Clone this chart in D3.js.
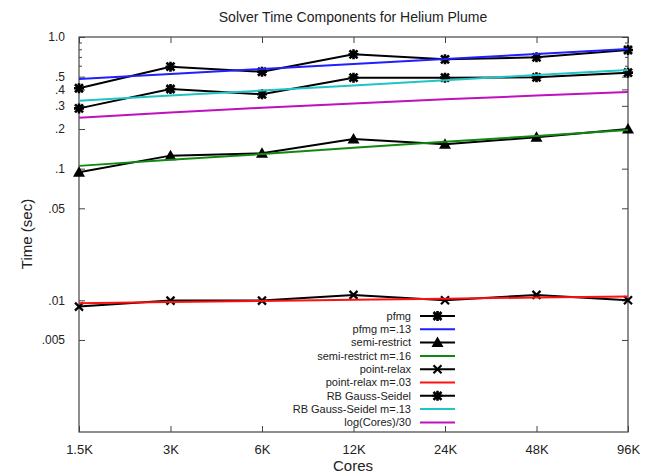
<!DOCTYPE html>
<html>
<head>
<meta charset="utf-8">
<script src="https://d3js.org/d3.v7.min.js"></script>
<style>
  body { margin: 0; background: #fff; }
  svg text { font-family: "Liberation Sans", Arial, sans-serif; fill: #222; }
</style>
</head>
<body>
<div id="graphic"></div>
<script>
// core counts along the x axis
var cores = ["1.5K", "3K", "6K", "12K", "24K", "48K", "96K"];

var pfmg         = [0.408, 0.595, 0.545, 0.739, 0.677, 0.701, 0.797];
var pfmgFit      = [0.48, 0.524, 0.571, 0.623, 0.68, 0.742, 0.81];
var semiRestrict = [0.094, 0.1256, 0.131, 0.168, 0.153, 0.173, 0.200];
var semiFit      = [0.105, 0.117, 0.129, 0.144, 0.160, 0.177, 0.197];
var pointRelax   = [0.00896, 0.00995, 0.00995, 0.0110, 0.0100, 0.0110, 0.0100];
var pointFit     = [0.0095, 0.0097, 0.0099, 0.0101, 0.0103, 0.0105, 0.0107];
var rbgs         = [0.287, 0.403, 0.367, 0.491, 0.491, 0.494, 0.536];
var rbgsFit      = [0.328, 0.359, 0.392, 0.429, 0.470, 0.514, 0.562];
var logCores     = [0.244, 0.267, 0.290, 0.313, 0.336, 0.359, 0.382];

var yTickVals  = [1.0, 0.5, 0.4, 0.3, 0.2, 0.1, 0.05, 0.01, 0.005];
var yTickNames = ["1.0", ".5", ".4", ".3", ".2", ".1", ".05", ".01", ".005"];
var yMinorVals = [0.9, 0.8, 0.7, 0.6];

var series = [
  { name: "pfmg",                  values: pfmg,         color: "#000", marker: "star" },
  { name: "pfmg m=.13",            values: pfmgFit,      color: "#1f1fff" },
  { name: "semi-restrict",         values: semiRestrict, color: "#000", marker: "tri" },
  { name: "semi-restrict m=.16",   values: semiFit,      color: "#118811" },
  { name: "point-relax",           values: pointRelax,   color: "#000", marker: "x" },
  { name: "point-relax m=.03",     values: pointFit,     color: "#ff1010" },
  { name: "RB Gauss-Seidel",       values: rbgs,         color: "#000", marker: "star" },
  { name: "RB Gauss-Seidel m=.13", values: rbgsFit,      color: "#1fc4c4" },
  { name: "log(Cores)/30",         values: logCores,     color: "#c010c0" }
];

var margin = { top: 37, right: 37, bottom: 43, left: 79 };
var width = 665 - margin.left - margin.right,
    height = 475 - margin.top - margin.bottom;

var svg = d3.select("#graphic").append("svg")
    .attr("width", 665)
    .attr("height", 475);

var g = svg.append("g")
    .attr("transform", "translate(" + margin.left + "," + margin.top + ")");

var x = d3.scalePoint()
    .domain(cores)
    .range([0, width]);

var y = d3.scaleLog()
    .domain([0.001, 1.0])
    .range([height, 0]);

// axes: ticks pointing inward, mirrored on top/right
var tickLen = 6;
g.append("g")
    .attr("transform", "translate(0," + height + ")")
    .call(d3.axisBottom(x).tickSizeInner(-tickLen).tickSizeOuter(0).tickPadding(tickLen + 7))
    .call(function (a) { a.select(".domain").remove(); })
    .selectAll("text").style("font-size", "13px");

g.append("g")
    .call(d3.axisTop(x).tickSizeInner(-tickLen).tickSizeOuter(0).tickFormat(""))
    .call(function (a) { a.select(".domain").remove(); });

g.append("g")
    .call(d3.axisLeft(y).tickValues(yTickVals).tickFormat(function (d, i) { return yTickNames[i]; })
      .tickSizeInner(-tickLen).tickSizeOuter(0).tickPadding(tickLen + 8))
    .call(function (a) { a.select(".domain").remove(); })
    .selectAll("text").style("font-size", "12px");

g.append("g")
    .attr("transform", "translate(" + width + ",0)")
    .call(d3.axisRight(y).tickValues(yTickVals).tickSizeInner(-tickLen).tickSizeOuter(0).tickFormat(""))
    .call(function (a) { a.select(".domain").remove(); });

// minor ticks
[0, width].forEach(function (xx) {
  g.selectAll(null).data(yMinorVals).enter().append("line")
      .attr("x1", xx)
      .attr("x2", xx === 0 ? 3 : width - 3)
      .attr("y1", function (d) { return y(d); })
      .attr("y2", function (d) { return y(d); })
      .attr("stroke", "#444");
});

g.selectAll(".tick line").attr("stroke", "#444");

g.append("rect")
    .attr("width", width)
    .attr("height", height)
    .attr("fill", "none")
    .attr("stroke", "#444")
    .attr("stroke-width", 1.2);

var line = d3.line()
    .x(function (d, i) { return x(cores[i]); })
    .y(function (d) { return y(d); });

function drawMarker(sel, type) {
  if (type === "tri") {
    sel.append("path").attr("d", "M0,-6L6,4.5L-6,4.5Z").attr("fill", "#000");
  } else if (type === "x") {
    sel.append("path").attr("d", "M-4,-4L4,4M-4,4L4,-4")
        .attr("stroke", "#000").attr("stroke-width", 2.2);
  } else if (type === "star") {
    sel.append("path").attr("d", "M-4,-4L4,4M-4,4L4,-4M-5,0L5,0M0,-5L0,5")
        .attr("stroke", "#000").attr("stroke-width", 2.6);
  }
}

series.forEach(function (s) {
  g.append("path")
      .datum(s.values)
      .attr("fill", "none")
      .attr("stroke", s.color)
      .attr("stroke-width", 2)
      .attr("d", line);
  if (s.marker) {
    s.values.forEach(function (v, i) {
      var m = g.append("g").attr("transform", "translate(" + x(cores[i]) + "," + y(v) + ")");
      drawMarker(m, s.marker);
    });
  }
});

// legend
var legend = svg.append("g").attr("transform", "translate(411,316)");
series.forEach(function (s, i) {
  var row = legend.append("g").attr("transform", "translate(0," + (i * 13.3) + ")");
  row.append("text")
      .attr("text-anchor", "end")
      .attr("dy", "0.35em")
      .style("font-size", "11px")
      .text(s.name);
  row.append("line")
      .attr("x1", 9).attr("x2", 44)
      .attr("stroke", s.color)
      .attr("stroke-width", 2);
  if (s.marker) {
    drawMarker(row.append("g").attr("transform", "translate(26.5,0)"), s.marker);
  }
});

// title and axis labels
svg.append("text")
    .attr("x", 353).attr("y", 22)
    .attr("text-anchor", "middle")
    .style("font-size", "14px")
    .text("Solver Time Components for Helium Plume");

svg.append("text")
    .attr("x", 353).attr("y", 471)
    .attr("text-anchor", "middle")
    .style("font-size", "15px")
    .text("Cores");

svg.append("text")
    .attr("transform", "translate(32,234) rotate(-90)")
    .attr("text-anchor", "middle")
    .style("font-size", "15px")
    .text("Time (sec)");
</script>
</body>
</html>
